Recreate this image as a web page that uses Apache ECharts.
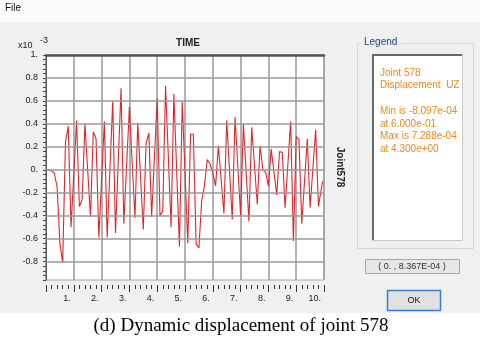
<!DOCTYPE html>
<html>
<head>
<meta charset="utf-8">
<title>Dynamic displacement of joint 578</title>
<script src="https://cdn.jsdelivr.net/npm/echarts@6/dist/echarts.min.js"></script>
<style>
  html, body { margin: 0; padding: 0; background: #fff; }
  #chart { width: 480px; height: 338px; }
</style>
</head>
<body>
<div id="chart"></div>
<script>
// 节点 578 的竖向位移时程 (单位 x10^-3)
const times = [0, 0.1, 0.2, 0.3, 0.4, 0.5, 0.6, 0.7, 0.8, 0.9, 1.1, 1.2, 1.3, 1.4, 1.6, 1.7, 1.8, 1.9,
  2.1, 2.2, 2.4, 2.5, 2.7, 2.8, 3.0, 3.2, 3.3, 3.5, 3.6, 3.7, 3.8, 4.0, 4.1, 4.2, 4.3, 4.5, 4.6,
  4.8, 4.9, 5.1, 5.2, 5.3, 5.4, 5.5, 5.6, 5.7, 5.8, 5.9, 6.0, 6.1, 6.2, 6.4, 6.5, 6.7, 6.8, 7.0,
  7.1, 7.3, 7.4, 7.6, 7.7, 7.8, 7.9, 8.0, 8.1, 8.3, 8.4, 8.5, 8.6, 8.8, 8.9, 9.0, 9.1, 9.2, 9.4,
  9.5, 9.7, 9.8, 9.95]
const dispUZ = [0, 0, -0.01, -0.03, -0.15, -0.64, -0.81, 0.24, 0.38, -0.50, 0.43, -0.32, -0.26, 0.40, -0.41, 0.33, 0.27, -0.59,
  0.42, -0.59, 0.60, -0.55, 0.71, -0.47, 0.55, -0.42, 0.41, -0.52, 0.23, 0.32, -0.41, 0.62, -0.40, -0.36, 0.729, -0.50, 0.66,
  -0.67, 0.59, -0.64, 0.31, 0.31, -0.645, -0.68, -0.27, -0.14, 0.09, 0.05, -0.03, -0.14, 0.21, -0.38, 0.43, -0.43, 0.46, -0.40,
  0.40, -0.45, 0.37, -0.30, 0.21, 0.0, -0.02, -0.14, 0.18, -0.22, 0.16, 0.15, -0.33, 0.42, -0.62, 0.29, 0.26, -0.47, 0.27,
  -0.33, 0.35, -0.32, -0.10]
// 横向网格线所在的刻度
const yGridTicks = [-0.8, -0.6, -0.4, -0.2, 0, 0.2, 0.4, 0.6, 0.8]
// 图例框里的文字
const legendLines = ['Joint 578', 'Displacement  UZ', '', 'Min is -8.097e-04', 'at 6.000e-01', 'Max is 7.288e-04', 'at 4.300e+00']
const readout = '( 0. , 8.367E-04 )'

const FONT = '"Liberation Sans", Arial, sans-serif'

function initChart() {
  const chart = echarts.init(document.getElementById('chart'), null, { renderer: 'canvas' })

  // y 轴只在 0.2 的整数倍处显示文字
  const yLabel = (v) => {
    const k = v * 5
    if (Math.abs(k - Math.round(k)) > 1e-6) return ''
    const val = Math.round(k) / 5
    if (Number.isInteger(val)) return val + '.'
    return val.toFixed(1)
  }

  // 图例文字
  const legendTexts = legendLines.map((line, i) => ({
    type: 'text',
    style: { text: line, x: 380, y: 73 + i * 12.7, fill: '#ea8a22', font: '10px ' + FONT, textVerticalAlign: 'middle' }
  }))

  const option = {
    animation: false,
    backgroundColor: '#f0f0f0',
    grid: {
      left: 46, top: 55, width: 278, height: 225,
      show: true, backgroundColor: '#fff', borderColor: '#a8a8a8', borderWidth: 1
    },
    xAxis: [
      {
        type: 'value', min: 0, max: 10, interval: 1, position: 'bottom', offset: 5,
        axisLine: { show: false, onZero: false },
        axisTick: { show: true, length: 7, lineStyle: { color: '#333' } },
        minorTick: { show: true, splitNumber: 5, length: 4, lineStyle: { color: '#333' } },
        axisLabel: {
          formatter: (v) => (v === 0 ? '' : v + '.'),
          align: 'right', padding: [0, 3, 0, 0], margin: 9,
          color: '#222', fontSize: 9, fontFamily: FONT
        },
        splitLine: { show: true, lineStyle: { color: '#999', width: 1.5 } }
      },
      {
        type: 'value', min: 0, max: 10, position: 'top',
        axisLine: { show: true, onZero: false, lineStyle: { color: '#555', width: 2.5 } },
        axisTick: { show: false }, axisLabel: { show: false }, splitLine: { show: false }
      }
    ],
    yAxis: {
      type: 'value', min: -0.96, max: 1, interval: 0.04,
      axisLine: { show: true, onZero: false, lineStyle: { color: '#555', width: 1 } },
      axisTick: { show: true, length: 3, lineStyle: { color: '#444' } },
      axisLabel: { formatter: yLabel, margin: 8, padding: [9, 0, 0, 0], color: '#222', fontSize: 9, fontFamily: FONT },
      splitLine: { show: false }
    },
    series: [
      {
        // 只用来画横向网格线
        type: 'line', data: [], z: 1, silent: true,
        markLine: {
          silent: true, symbol: ['none', 'none'], label: { show: false },
          lineStyle: { color: '#999', width: 1.5, type: 'solid' },
          data: yGridTicks.map((v) => ({ yAxis: v }))
        }
      },
      {
        type: 'line', z: 3, silent: true, showSymbol: false,
        data: times.map((t, i) => [t, dispUZ[i]]),
        lineStyle: { color: '#e0262c', width: 1.1 }
      }
    ],
    graphic: [
      // 菜单栏 和 下方图注底色
      { type: 'rect', shape: { x: 0, y: 0, width: 480, height: 22 }, style: { fill: '#fbfbfb' } },
      { type: 'rect', shape: { x: 0, y: 313, width: 480, height: 25 }, style: { fill: '#fff' } },
      { type: 'text', style: { text: 'File', x: 5, y: 8, fill: '#111', font: '10px ' + FONT, textVerticalAlign: 'middle' } },
      { type: 'text', style: { text: 'x10', x: 18, y: 46, fill: '#222', font: '9px ' + FONT, textVerticalAlign: 'middle' } },
      { type: 'text', style: { text: '-3', x: 40, y: 41, fill: '#222', font: '9px ' + FONT, textVerticalAlign: 'middle' } },
      { type: 'text', style: { text: 'TIME', x: 188, y: 43, fill: '#222', font: 'bold 10px ' + FONT, textAlign: 'center', textVerticalAlign: 'middle' } },
      { type: 'text', x: 340, y: 167, rotation: -Math.PI / 2,
        style: { text: 'Joint578', x: 0, y: 0, fill: '#222', font: 'bold 10px ' + FONT, textAlign: 'center', textVerticalAlign: 'middle' } },
      // 图例分组框
      { type: 'rect', shape: { x: 357.5, y: 43.5, width: 116, height: 205 }, style: { fill: 'none', stroke: '#d8d8d8', lineWidth: 1 } },
      { type: 'rect', shape: { x: 361, y: 36, width: 40, height: 12 }, style: { fill: '#f0f0f0' } },
      { type: 'text', style: { text: 'Legend', x: 364, y: 42, fill: '#1d3f9c', font: '10px ' + FONT, textVerticalAlign: 'middle' } },
      { type: 'rect', shape: { x: 372.5, y: 54.5, width: 90, height: 186 }, style: { fill: '#fff', stroke: '#c8c8c8', lineWidth: 1 } },
      { type: 'polyline', shape: { points: [[373, 240], [373, 55], [462, 55]] }, style: { stroke: '#666', lineWidth: 2, fill: 'none' } },
      ...legendTexts,
      // 坐标读数框
      { type: 'rect', shape: { x: 365.5, y: 259.5, width: 94, height: 14 }, style: { fill: '#e6e6e6', stroke: '#a8a8a8', lineWidth: 1 } },
      { type: 'text', style: { text: readout, x: 412, y: 266.5, fill: '#333', font: '9px ' + FONT, textAlign: 'center', textVerticalAlign: 'middle' } },
      // OK 按钮
      { type: 'rect', shape: { x: 387.5, y: 290.5, width: 53, height: 20 }, style: { fill: '#e1e1e1', stroke: '#3b7bd4', lineWidth: 1.5 } },
      { type: 'text', style: { text: 'OK', x: 414, y: 300.5, fill: '#111', font: '9px ' + FONT, textAlign: 'center', textVerticalAlign: 'middle' } },
      // 图注
      { type: 'text', style: { text: '(d) Dynamic displacement of joint 578', x: 241, y: 326, fill: '#000',
        font: '19px "Liberation Serif", "Times New Roman", serif', textAlign: 'center', textVerticalAlign: 'middle' } }
    ]
  }
  chart.setOption(option)
}

initChart()
</script>
</body>
</html>
